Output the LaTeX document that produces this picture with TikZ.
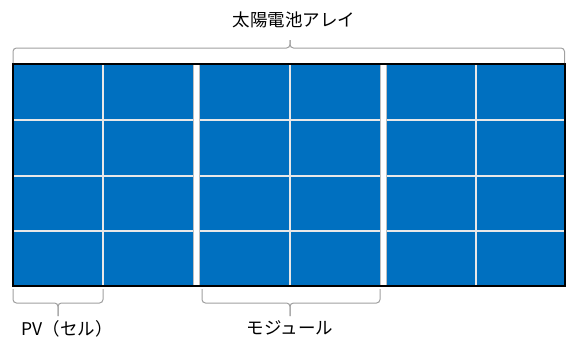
\documentclass[tikz,border=0pt]{standalone}
\usepackage{fontspec}
\newfontfamily\jp{Noto Sans CJK JP}
\definecolor{panel}{HTML}{0070C0}
\definecolor{gridln}{HTML}{E8E8E8}
\definecolor{brk}{HTML}{A0A0A0}
\begin{document}
\begin{tikzpicture}[x=1pt,y=-1pt,
  bracket/.style={draw=brk,line width=1pt,rounded corners=3.5pt},
  celline/.style={draw=gridln,line width=2pt},
  gap/.style={fill=white},
  lbl/.style={font=\jp\fontsize{17.5}{20}\selectfont,text=black,inner sep=0pt}]
\useasboundingbox (0,0) rectangle (566,340);
% panel
\fill[panel] (13,64) rectangle (565,286);
% thin cell lines
\foreach \x in {103,289.5,475.5} \draw[celline] (\x,64) -- (\x,286);
\foreach \y in {120,175.5,231} \draw[celline] (13,\y) -- (565,\y);
% module gaps
\fill[gap] (193,64) rectangle (199,286);
\fill[gap] (380,64) rectangle (386,286);
\draw[black!25,line width=0.4pt] (193,64) -- (193,286) (199,64) -- (199,286)
  (380,64) -- (380,286) (386,64) -- (386,286);
% frame
\draw[black,line width=2.5pt] (13,64) rectangle (565,286);
% top bracket
\draw[bracket] (13,63) |- (290,48) -- (290,40);
\draw[bracket] (564.5,63) |- (290,48) -- (290,40);
% PV bracket
\draw[bracket] (13,289) |- (58,303) -- (58,316);
\draw[bracket] (103,289) |- (58,303) -- (58,316);
% module bracket
\draw[bracket] (202,289) |- (290,303) -- (290,316);
\draw[bracket] (380,289) |- (290,303) -- (290,316);
% labels
\node[lbl] (array) at (294,20) {太陽電池アレイ};
\node[lbl] (pv) at (67,329) {PV（セル）};
\node[lbl] (module) at (290,328) {モジュール};
\end{tikzpicture}
\end{document}
